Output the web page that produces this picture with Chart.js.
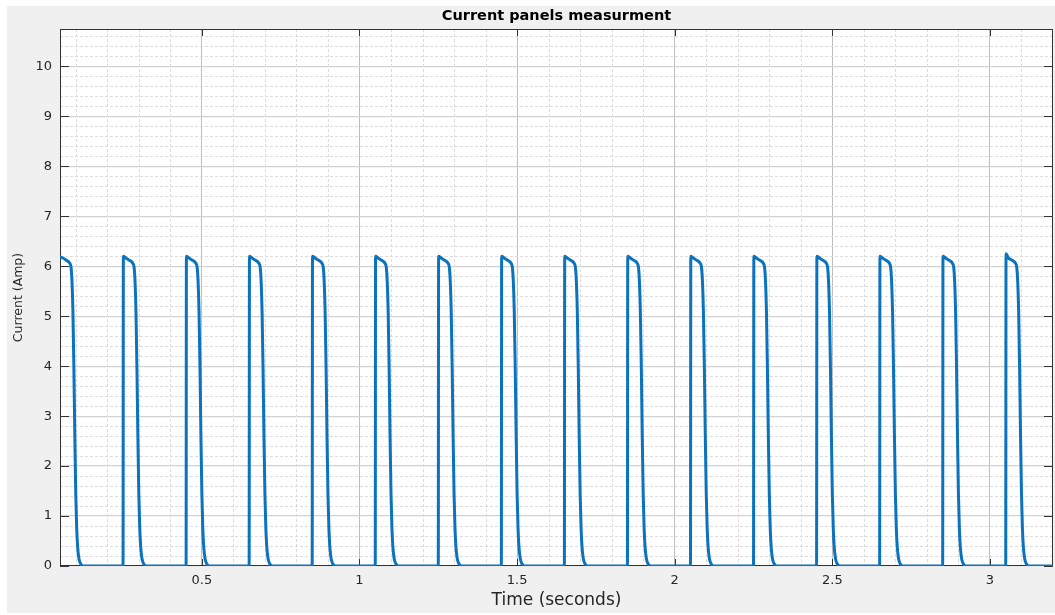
<!DOCTYPE html>
<html>
<head>
<meta charset="utf-8">
<script src="https://cdn.jsdelivr.net/npm/chart.js@4.4.1/dist/chart.umd.min.js"></script>
<style>
  html, body { margin: 0; padding: 0; background: #fff; }
  #wrap { width: 1055px; height: 615px; }
</style>
</head>
<body>
<div id="wrap"><canvas id="currentChart" width="1055" height="615"></canvas></div>
<script>
// Rising edge of every panel pulse (seconds) and the peak current it reaches
const startTimes = [0.05, 0.25, 0.45, 0.65, 0.85, 1.05, 1.25, 1.45, 1.65, 1.85, 2.05, 2.25, 2.45, 2.65, 2.85, 3.05];
const peakCurrents = [6.19, 6.2, 6.2, 6.2, 6.2, 6.2, 6.2, 6.2, 6.2, 6.2, 6.2, 6.2, 6.2, 6.2, 6.2, 6.25];

// Shape of one pulse after its peak (time after rise, Amp)
const decayOffsets = [0.008, 0.02, 0.031, 0.035, 0.038, 0.041, 0.044, 0.047, 0.050, 0.053, 0.056, 0.060, 0.065, 0.073];
const decayValues = [6.17, 6.12, 6.06, 5.98, 5.7, 5.1, 4.0, 2.6, 1.45, 0.75, 0.38, 0.15, 0.05, 0];

const endTime = 3.2;
const xTicks = [0.5, 1, 1.5, 2, 2.5, 3];
const yTicks = [0, 1, 2, 3, 4, 5, 6, 7, 8, 9, 10];

// build the point table from the arrays above
const points = [];
startTimes.forEach((t0, i) => {
  if (i > 0) points.push({ x: t0, y: 0 });
  points.push({ x: +(t0 + 0.001).toFixed(4), y: peakCurrents[i] });
  decayOffsets.forEach((dt, j) => {
    points.push({ x: +(t0 + dt).toFixed(4), y: decayValues[j] });
  });
});
points.push({ x: endTime, y: 0 });

const axisColor = '#333333';
const textColor = '#262626';

// gray figure, white axes, dashed minor grid, box and inward ticks (MATLAB look)
const matlabFrame = {
  id: 'matlabFrame',
  beforeDraw(chart) {
    const { ctx, chartArea: a } = chart;
    ctx.save();
    ctx.fillStyle = '#ffffff';
    ctx.fillRect(0, 0, chart.width, chart.height);
    ctx.fillStyle = '#f0f0f0';
    ctx.fillRect(7, 6, chart.width - 7, chart.height - 8);
    ctx.fillStyle = '#ffffff';
    ctx.fillRect(a.left, a.top, a.right - a.left, a.bottom - a.top);
    ctx.restore();
  },
  beforeDatasetsDraw(chart) {
    const { ctx, chartArea: a, scales: { x, y } } = chart;
    ctx.save();
    ctx.strokeStyle = '#dcdcdc';
    ctx.lineWidth = 1;
    ctx.setLineDash([3, 2]);
    for (let k = 1; k <= 31; k++) {
      if (k % 5 === 0) continue;
      const px = Math.round(x.getPixelForValue(k / 10)) + 0.5;
      ctx.beginPath(); ctx.moveTo(px, a.top); ctx.lineTo(px, a.bottom); ctx.stroke();
    }
    for (let k = 1; k <= 53; k++) {
      if (k % 5 === 0) continue;
      const py = Math.round(y.getPixelForValue(k / 5)) + 0.5;
      ctx.beginPath(); ctx.moveTo(a.left, py); ctx.lineTo(a.right, py); ctx.stroke();
    }
    ctx.setLineDash([]);
    ctx.strokeStyle = axisColor;
    ctx.lineWidth = 1;
    ctx.strokeRect(a.left + 0.5, a.top + 0.5, a.right - a.left - 1, a.bottom - a.top - 1);
    ctx.beginPath();
    xTicks.forEach(v => {
      const px = Math.round(x.getPixelForValue(v)) + 0.5;
      ctx.moveTo(px, a.bottom); ctx.lineTo(px, a.bottom - 7);
      ctx.moveTo(px, a.top); ctx.lineTo(px, a.top + 7);
    });
    yTicks.forEach(v => {
      const py = Math.round(y.getPixelForValue(v)) + 0.5;
      ctx.moveTo(a.left, py); ctx.lineTo(a.left + 9, py);
      ctx.moveTo(a.right, py); ctx.lineTo(a.right - 9, py);
    });
    ctx.stroke();
    ctx.restore();
  }
};

new Chart(document.getElementById('currentChart'), {
  type: 'line',
  data: {
    datasets: [{
      data: points,
      borderColor: '#0b72be',
      borderWidth: 3,
      pointRadius: 0,
      cubicInterpolationMode: 'monotone',
      borderJoinStyle: 'round',
      borderCapStyle: 'round',
      fill: false
    }]
  },
  options: {
    responsive: false,
    animation: false,
    layout: { padding: { top: 0, left: 0, right: 2, bottom: 0 } },
    plugins: {
      legend: { display: false },
      tooltip: { enabled: false },
      title: {
        display: true,
        fullSize: false,
        text: 'Current panels measurment',
        color: '#000000',
        font: { family: 'DejaVu Sans', size: 14.5, weight: 'bold' },
        padding: { top: 7.5, bottom: 4.1 }
      }
    },
    scales: {
      x: {
        type: 'linear',
        min: 0.05,
        max: endTime,
        afterBuildTicks: s => { s.ticks = xTicks.map(v => ({ value: v })); },
        afterFit: s => { s.height = 49; },
        ticks: {
          color: textColor,
          font: { family: 'DejaVu Sans', size: 13 },
          padding: 7,
          maxRotation: 0,
          callback: v => String(v)
        },
        grid: { color: '#bdbdbd', lineWidth: 1, drawTicks: false },
        border: { display: false },
        title: {
          display: true,
          text: 'Time (seconds)',
          color: textColor,
          font: { family: 'DejaVu Sans', size: 17 },
          padding: { top: 0, bottom: 4 }
        }
      },
      y: {
        min: 0,
        max: 10.75,
        afterBuildTicks: s => { s.ticks = yTicks.map(v => ({ value: v })); },
        afterFit: s => { s.width = 60; },
        ticks: {
          color: textColor,
          font: { family: 'DejaVu Sans', size: 13 },
          padding: 8,
          callback: v => String(v)
        },
        grid: { color: '#d2d2d2', lineWidth: 1.2, drawTicks: false },
        border: { display: false },
        title: {
          display: true,
          text: 'Current (Amp)',
          color: textColor,
          font: { family: 'DejaVu Sans', size: 12.5 },
          padding: { top: 11, bottom: 0 }
        }
      }
    }
  },
  plugins: [matlabFrame]
});
</script>
</body>
</html>
